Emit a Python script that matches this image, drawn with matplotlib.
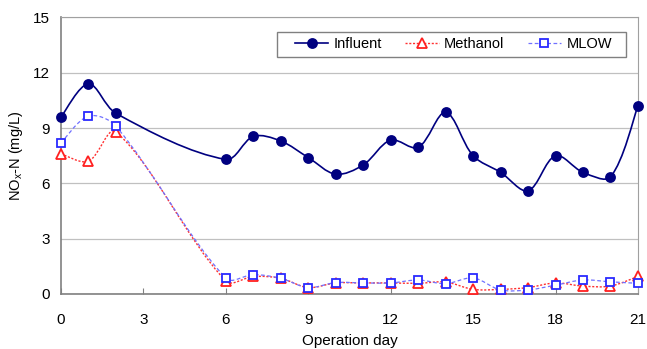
import numpy as np
import matplotlib
matplotlib.use('Agg')
import matplotlib.pyplot as plt
from matplotlib.path import Path
from matplotlib.patches import PathPatch, Rectangle
from matplotlib.lines import Line2D

plt.rcParams['font.family'] = ['Liberation Sans', 'DejaVu Sans']

# operation days and measured NOx-N (mg/L)
days = [0, 1, 2, 6, 7, 8, 9, 10, 11, 12, 13, 14, 15, 16, 17, 18, 19, 20, 21]
influent = [9.6, 11.4, 9.8, 7.3, 8.55, 8.3, 7.4, 6.5, 7.0, 8.35, 7.95, 9.85, 7.5, 6.6, 5.6, 7.5, 6.6, 6.35, 10.2]
methanol = [7.6, 7.2, 8.8, 0.7, 0.95, 0.85, 0.35, 0.6, 0.6, 0.6, 0.58, 0.65, 0.25, 0.25, 0.35, 0.6, 0.43, 0.43, 0.95]
mlow = [8.2, 9.65, 9.1, 0.85, 1.05, 0.85, 0.35, 0.62, 0.6, 0.6, 0.76, 0.56, 0.87, 0.22, 0.22, 0.48, 0.76, 0.66, 0.58]


def smooth_path(x, y, sx=27.5, sy=18.45):
    # smoothed line like excel: bezier segments, handles weighted by segment length
    x = np.asarray(x, float)
    y = np.asarray(y, float)
    n = len(x)
    pts = np.column_stack([x, y])
    scale = np.array([sx, sy])

    def seglen(a, b):
        return np.hypot(*((pts[b] - pts[a]) * scale))

    verts = [tuple(pts[0])]
    codes = [Path.MOVETO]
    for i in range(n - 1):
        i0, i3 = max(i - 1, 0), min(i + 2, n - 1)
        d01, d12, d23 = seglen(i0, i), seglen(i, i + 1), seglen(i + 1, i3)
        w1 = d12 / (d01 + d12) if i0 != i else 0.5
        w2 = d12 / (d12 + d23) if i3 != i + 1 else 0.5
        c1 = pts[i] + (pts[i + 1] - pts[i0]) * w1 / 3.0
        c2 = pts[i + 1] - (pts[i3] - pts[i]) * w2 / 3.0
        verts += [tuple(c1), tuple(c2), tuple(pts[i + 1])]
        codes += [Path.CURVE4] * 3
    return Path(verts, codes)


fig = plt.figure(figsize=(6.47, 3.49), dpi=100)
ax = fig.add_axes([0.0943, 0.1576, 0.8917, 0.7923])

# values, line colour, marker colour, linestyle, width, marker, face, label, size
series = [
    (influent, '#000080', '#000080', '-', 1.2, 'o', '#000080', 'Influent', 6.5),
    (methanol, '#ff3030', '#ff2020', (0, (1.5, 1.2)), 1.0, '^', 'white', 'Methanol', 6.5),
    (mlow, '#7070ff', '#2a2aff', (0, (3, 2)), 0.9, 's', 'white', 'MLOW', 6.3),
]

handles = []
for vals, col, mcol, ls, lw, mk, mfc, name, ms in series:
    ax.add_patch(PathPatch(smooth_path(days, vals), facecolor='none', edgecolor=col,
                           linestyle=ls, linewidth=lw, zorder=3, clip_on=False))
    ax.plot(days, vals, linestyle='none', marker=mk, markersize=ms, clip_on=False,
            markerfacecolor=mfc, markeredgecolor=mcol, markeredgewidth=1.3, zorder=4)
    handles.append(Line2D([], [], color=col, linestyle=ls, linewidth=lw, marker=mk,
                          markersize=ms, markerfacecolor=mfc, markeredgecolor=mcol,
                          markeredgewidth=1.3, label=name))

ax.set_xlim(0, 21)
ax.set_ylim(0, 15)
ax.set_xticks(range(0, 22, 3))
ax.set_yticks(range(0, 16, 3))
ax.yaxis.grid(True, color='#c0c0c0', linewidth=0.9)
ax.set_axisbelow(True)
for s in ['top', 'right']:
    ax.spines[s].set_color('#a0a0a0')
for s in ['left', 'bottom']:
    ax.spines[s].set_color('#808080')
    ax.spines[s].set_linewidth(1.2)
ax.tick_params(axis='x', direction='in', length=4, color='#808080', labelsize=11, pad=14)
ax.tick_params(axis='y', length=0, labelsize=11, pad=8)

ax.set_ylabel(r'$\mathregular{NO_x}$-N (mg/L)', fontsize=10.5, labelpad=6)
ax.set_xlabel('Operation day', fontsize=11, labelpad=5)

# legend box drawn separately so it can be wider than its contents
ax.add_patch(Rectangle((0.374, 0.857), 0.605, 0.091, transform=ax.transAxes,
                       facecolor='white', edgecolor='#808080', linewidth=1.0, zorder=5))
leg = ax.legend(handles=handles, ncol=3, loc='center', bbox_to_anchor=(0.68, 0.9025),
                frameon=False, fontsize=10.5, handlelength=2.3, columnspacing=1.6,
                handletextpad=0.35, borderpad=0, borderaxespad=0)
leg.set_zorder(6)

fig.savefig('out.png', dpi=100)
